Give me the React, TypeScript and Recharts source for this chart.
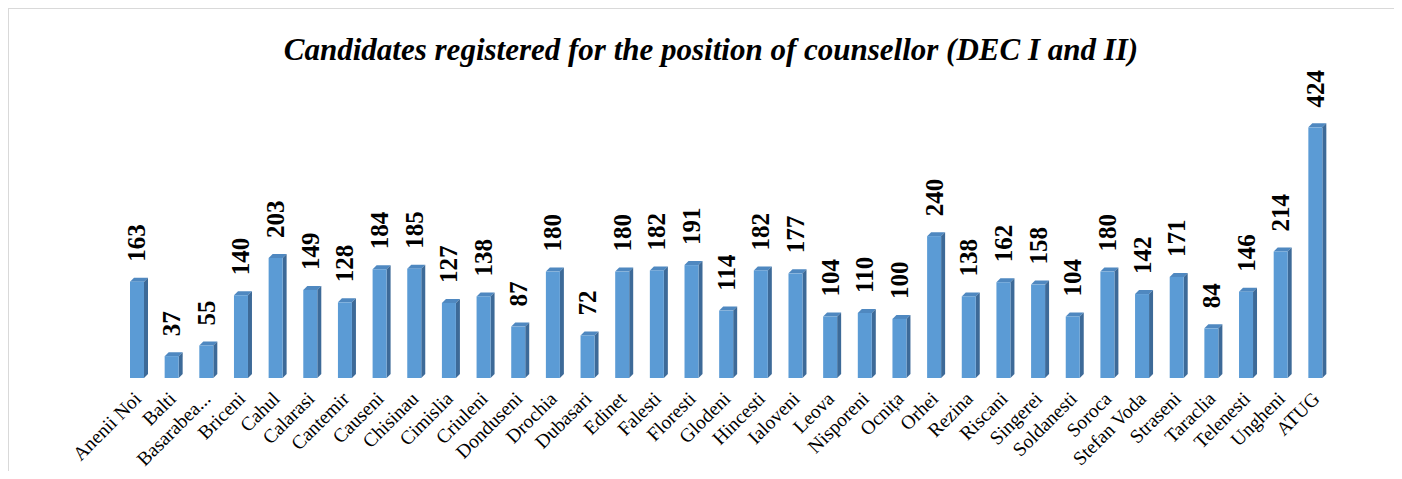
import React from 'react';
import { BarChart, Bar, XAxis, YAxis, LabelList } from 'recharts';

const districts = [
  'Anenii Noi', 'Balti', 'Basarabea...', 'Briceni', 'Cahul', 'Calarasi', 'Cantemir', 'Causeni',
  'Chisinau', 'Cimislia', 'Criuleni', 'Donduseni', 'Drochia', 'Dubasari', 'Edinet', 'Falesti',
  'Floresti', 'Glodeni', 'Hincesti', 'Ialoveni', 'Leova', 'Nisporeni', 'Ocnița', 'Orhei',
  'Rezina', 'Riscani', 'Singerei', 'Soldanesti', 'Soroca', 'Stefan Voda', 'Straseni', 'Taraclia',
  'Telenesti', 'Ungheni', 'ATUG',
];

const candidates = [
  163, 37, 55, 140, 203, 149, 128, 184,
  185, 127, 138, 87, 180, 72, 180, 182,
  191, 114, 182, 177, 104, 110, 100, 240,
  138, 162, 158, 104, 180, 142, 171, 84,
  146, 214, 424,
];

const title = 'Candidates registered for the position of counsellor (DEC I and II)';

const data = districts.map((name, i) => ({ name, value: candidates[i] }));

const serif = '"Liberation Serif", serif';

// bar with a front face, a darker side and a top, like the old 3D column charts
const Bar3D = (props: any) => {
  const { x, y, width, height } = props;
  const d = 4;
  const fw = width - d;
  return (
    <g>
      <polygon
        points={`${x},${y} ${x + d},${y - d} ${x + fw + d},${y - d} ${x + fw},${y}`}
        fill="#4f88c0"
      />
      <polygon
        points={`${x + fw},${y} ${x + fw + d},${y - d} ${x + fw + d},${y + height - d} ${x + fw},${y + height}`}
        fill="#3d6a98"
      />
      <rect x={x} y={y} width={fw} height={height} fill="#5b9bd5" />
    </g>
  );
};

const ValueLabel = (props: any) => {
  const { x, y, width, value } = props;
  const cx = x + (width - 4) / 2;
  const cy = y - 20;
  return (
    <text
      x={cx}
      y={cy}
      transform={`rotate(-90, ${cx}, ${cy})`}
      textAnchor="start"
      dominantBaseline="central"
      fontFamily={serif}
      fontWeight="bold"
      fontSize={25}
      fill="#000"
    >
      {value}
    </text>
  );
};

const DistrictTick = (props: any) => {
  const { x, y, payload } = props;
  return (
    <g transform={`translate(${x + 3},${y + 14})`}>
      <text
        transform="rotate(-45)"
        textAnchor="end"
        fontFamily={serif}
        fontSize={19.5}
        fill="#000"
      >
        {payload.value}
      </text>
    </g>
  );
};

export default function App() {
  return (
    <div
      style={{
        position: 'relative',
        width: 1394,
        height: 471,
        marginBottom: -8,
        borderLeft: '1px solid #d9d9d9',
        borderTop: '1px solid #d9d9d9',
        background: '#fff',
        boxSizing: 'border-box',
      }}
    >
      <svg width={1393} height={90} style={{ position: 'absolute', left: 0, top: 0 }}>
        <text
          x={702}
          y={51}
          textAnchor="middle"
          fontFamily={serif}
          fontWeight="bold"
          fontStyle="italic"
          fontSize={31}
          fill="#000"
        >
          {title}
        </text>
      </svg>
      <BarChart
        width={1393}
        height={470}
        data={data}
        margin={{ top: 103, right: 67, left: 113, bottom: 0 }}
      >
        <XAxis
          dataKey="name"
          interval={0}
          axisLine={false}
          tickLine={false}
          height={101}
          tick={<DistrictTick />}
        />
        <YAxis hide domain={[0, 450]} />
        <Bar dataKey="value" barSize={18} shape={<Bar3D />} isAnimationActive={false}>
          <LabelList dataKey="value" content={<ValueLabel />} />
        </Bar>
      </BarChart>
    </div>
  );
}
